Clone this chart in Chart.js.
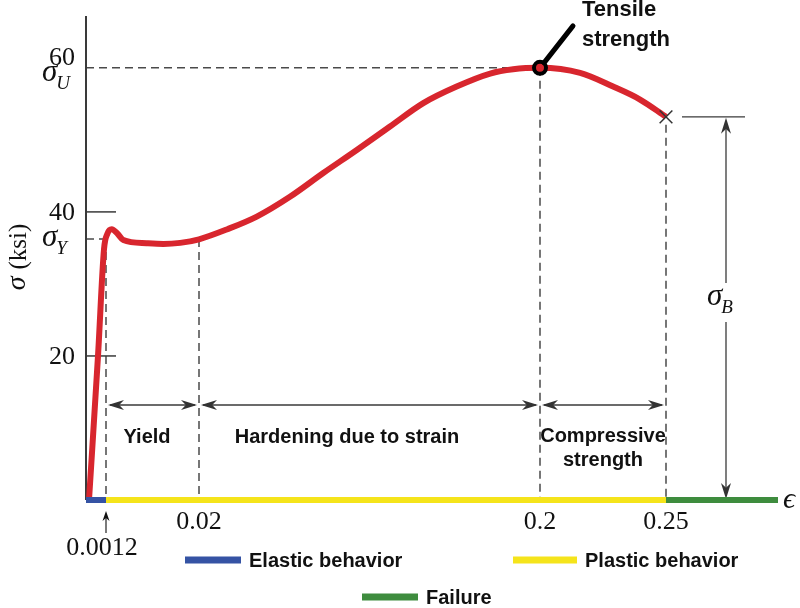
<!DOCTYPE html>
<html>
<head>
<meta charset="utf-8">
<script src="https://cdn.jsdelivr.net/npm/chart.js@4.4.1/dist/chart.umd.min.js"></script>
<style>
  html, body { margin: 0; padding: 0; background: #fff; }
  #wrap { width: 800px; height: 608px; }
</style>
</head>
<body>
<div id="wrap"><canvas id="stressChart" width="800" height="608"></canvas></div>
<script>
// stress-strain curve (strain, ksi)
const strain = [0.00018, 0.00072, 0.00108, 0.0015, 0.00235, 0.0035, 0.0047, 0.0094, 0.0128, 0.0162, 0.02, 0.035, 0.0505, 0.068, 0.0856, 0.1033, 0.1208, 0.1384, 0.156, 0.1737, 0.1858, 0.2, 0.2159, 0.229, 0.2397, 0.25];
const stress = [0, 20, 34.8, 37.0, 37.6, 37.0, 36.1, 35.65, 35.55, 35.7, 36.2, 37.6, 39.35, 42.1, 45.4, 48.6, 51.85, 55.1, 57.4, 59.2, 59.8, 60, 59.3, 57.4, 55.6, 53.2];

const yTicks = [20, 40];
const yTopLabel = '60';
const yieldStress = 36.25;
const ultimateStress = 60;
const breakStress = 53.2;
const yieldStrain = 0.0012;
const hardenStrain = 0.02;
const ultimateStrain = 0.2;
const breakStrain = 0.25;
const endStrain = 0.3;
const xTickLabels = ['0.02', '0.2', '0.25'];
const xTickValues = [0.02, 0.2, 0.25];

const regionNames = ['Yield', 'Hardening due to strain', ['Compressive', 'strength']];
const behaviourNames = ['Elastic behavior', 'Plastic behavior', 'Failure'];
const behaviourColors = ['#3553a4', '#f5e41b', '#3e8c3e'];

// the strain axis in the figure is not to scale: piecewise linear between the marked strains
const strainStops = [0, yieldStrain, hardenStrain, ultimateStrain, breakStrain, endStrain];
const stopFractions = [0, 20 / 692, 113 / 692, 454 / 692, 580 / 692, 1];

class BrokenStrainScale extends Chart.LinearScale {
  getPixelForValue(value) {
    let i = 1;
    while (i < strainStops.length - 1 && value > strainStops[i]) i++;
    const a = strainStops[i - 1], b = strainStops[i];
    const f = stopFractions[i - 1] + (value - a) / (b - a) * (stopFractions[i] - stopFractions[i - 1]);
    return this.getPixelForDecimal(f);
  }
  getValueForPixel(pixel) {
    const f = this.getDecimalForPixel(pixel);
    let i = 1;
    while (i < stopFractions.length - 1 && f > stopFractions[i]) i++;
    const a = stopFractions[i - 1], b = stopFractions[i];
    return strainStops[i - 1] + (f - a) / (b - a) * (strainStops[i] - strainStops[i - 1]);
  }
}
BrokenStrainScale.id = 'brokenStrain';
BrokenStrainScale.defaults = Chart.LinearScale.defaults;
Chart.register(BrokenStrainScale);

const SERIF = '"Liberation Serif", "DejaVu Serif", serif';
const SANS = '"Liberation Sans", Arial, sans-serif';

function line(ctx, x1, y1, x2, y2) {
  ctx.beginPath();
  ctx.moveTo(x1, y1);
  ctx.lineTo(x2, y2);
  ctx.stroke();
}

function arrowHead(ctx, x, y, angle, len, half) {
  ctx.save();
  ctx.translate(x, y);
  ctx.rotate(angle);
  ctx.beginPath();
  ctx.moveTo(0, 0);
  ctx.lineTo(-len, -half);
  ctx.lineTo(-len * 0.7, 0);
  ctx.lineTo(-len, half);
  ctx.closePath();
  ctx.fill();
  ctx.restore();
}

function doubleArrow(ctx, x1, x2, y) {
  line(ctx, x1 + 4, y, x2 - 4, y);
  arrowHead(ctx, x1 + 2, y, Math.PI, 16, 5);
  arrowHead(ctx, x2 - 2, y, 0, 16, 5);
}

function sigma(ctx, x, y, sub) {
  ctx.font = 'italic 31px ' + SERIF;
  ctx.textAlign = 'left';
  ctx.textBaseline = 'middle';
  ctx.fillText('σ', x, y - 3);
  const w = ctx.measureText('σ').width;
  ctx.font = 'italic 19px ' + SERIF;
  ctx.fillText(sub, x + w - 1, y + 8);
}

const figurePlugin = {
  id: 'figure',
  beforeDatasetsDraw(chart) {
    const { ctx, chartArea, scales: { x, y } } = chart;
    const base = y.getPixelForValue(0);
    ctx.save();
    ctx.strokeStyle = '#4a4a4a';
    ctx.lineWidth = 1.5;
    ctx.setLineDash([8, 5]);
    line(ctx, chartArea.left, y.getPixelForValue(ultimateStress), x.getPixelForValue(ultimateStrain), y.getPixelForValue(ultimateStress));
    line(ctx, x.getPixelForValue(ultimateStrain), y.getPixelForValue(ultimateStress), x.getPixelForValue(ultimateStrain), base);
    line(ctx, chartArea.left, y.getPixelForValue(yieldStress), x.getPixelForValue(yieldStrain), y.getPixelForValue(yieldStress));
    line(ctx, x.getPixelForValue(yieldStrain), y.getPixelForValue(yieldStress), x.getPixelForValue(yieldStrain), base);
    line(ctx, x.getPixelForValue(hardenStrain), y.getPixelForValue(yieldStress), x.getPixelForValue(hardenStrain), base);
    line(ctx, x.getPixelForValue(breakStrain), y.getPixelForValue(breakStress) + 8, x.getPixelForValue(breakStrain), base);
    ctx.setLineDash([]);

    // stress axis and ticks
    ctx.strokeStyle = '#3a3a3a';
    ctx.lineWidth = 2;
    line(ctx, chartArea.left, chartArea.top, chartArea.left, base);
    ctx.lineWidth = 1.5;
    yTicks.forEach(v => line(ctx, chartArea.left, y.getPixelForValue(v), chartArea.left + 30, y.getPixelForValue(v)));

    // region arrows
    ctx.fillStyle = '#333';
    ctx.lineWidth = 1.3;
    const ay = base - 95;
    doubleArrow(ctx, x.getPixelForValue(yieldStrain), x.getPixelForValue(hardenStrain), ay);
    doubleArrow(ctx, x.getPixelForValue(hardenStrain), x.getPixelForValue(ultimateStrain), ay);
    doubleArrow(ctx, x.getPixelForValue(ultimateStrain), x.getPixelForValue(breakStrain), ay);

    // sigma_B dimension
    const bx = x.getPixelForValue(breakStrain);
    const by = y.getPixelForValue(breakStress);
    line(ctx, bx + 16, by, bx + 79, by);
    const dx = bx + 60;
    line(ctx, dx, by + 6, dx, 283);
    line(ctx, dx, 322, dx, base - 6);
    arrowHead(ctx, dx, by + 1, -Math.PI / 2, 16, 5);
    arrowHead(ctx, dx, base - 1, Math.PI / 2, 16, 5);
    ctx.restore();
  },
  afterDatasetsDraw(chart) {
    const { ctx, chartArea, scales: { x, y } } = chart;
    const base = y.getPixelForValue(0);
    ctx.save();

    // behaviour bars along the strain axis
    ctx.lineWidth = 6;
    const ends = [yieldStrain, breakStrain, endStrain];
    let from = chartArea.left;
    ends.forEach((e, i) => {
      const to = e === endStrain ? chartArea.right : x.getPixelForValue(e);
      ctx.strokeStyle = behaviourColors[i];
      line(ctx, from, base, to, base);
      from = to;
    });

    // tensile strength pointer
    const ux = x.getPixelForValue(ultimateStrain), uy = y.getPixelForValue(ultimateStress);
    ctx.strokeStyle = '#000';
    ctx.lineWidth = 5;
    ctx.lineCap = 'round';
    line(ctx, ux + 4, uy - 5, ux + 33, uy - 42);
    ctx.lineCap = 'butt';

    ctx.fillStyle = '#111';
    ctx.font = 'bold 22px ' + SANS;
    ctx.textAlign = 'left';
    ctx.textBaseline = 'middle';
    ctx.fillText('Tensile', 582, 10);
    ctx.fillText('strength', 582, 40);

    // stress tick labels
    ctx.font = '26px ' + SERIF;
    ctx.textAlign = 'center';
    ctx.fillText(yTopLabel, 62, y.getPixelForValue(ultimateStress) - 10);
    yTicks.forEach(v => ctx.fillText(String(v), 62, y.getPixelForValue(v) + 1));
    sigma(ctx, 42, y.getPixelForValue(ultimateStress) + 8, 'U');
    sigma(ctx, 42, y.getPixelForValue(yieldStress) + 2, 'Y');
    sigma(ctx, x.getPixelForValue(breakStrain) + 41, 300, 'B');

    // stress axis title
    ctx.save();
    ctx.translate(19, 257);
    ctx.rotate(-Math.PI / 2);
    ctx.textAlign = 'left';
    ctx.font = 'italic 28px ' + SERIF;
    const sw = ctx.measureText('σ ').width;
    ctx.font = '25px ' + SERIF;
    const kw = ctx.measureText('(ksi)').width;
    ctx.font = 'italic 28px ' + SERIF;
    ctx.fillText('σ ', -(sw + kw) / 2, -1);
    ctx.font = '25px ' + SERIF;
    ctx.fillText('(ksi)', -(sw + kw) / 2 + sw, 0);
    ctx.restore();

    // strain tick labels
    ctx.font = '26px ' + SERIF;
    ctx.textAlign = 'center';
    xTickValues.forEach((v, i) => ctx.fillText(xTickLabels[i], x.getPixelForValue(v), base + 22));
    const yx = x.getPixelForValue(yieldStrain);
    ctx.fillText(String(yieldStrain), yx - 4, base + 48);
    ctx.strokeStyle = '#333';
    ctx.lineWidth = 1.3;
    line(ctx, yx, base + 33, yx, base + 16);
    arrowHead(ctx, yx, base + 11, -Math.PI / 2, 10, 3.5);
    ctx.font = 'italic 30px ' + SERIF;
    ctx.fillText('ϵ', 789, base);

    // region names
    ctx.font = 'bold 20px ' + SANS;
    ctx.fillText(regionNames[0], 147, base - 63);
    ctx.fillText(regionNames[1], 347, base - 63);
    ctx.fillText(regionNames[2][0], 603, base - 64);
    ctx.fillText(regionNames[2][1], 603, base - 40);

    // legend
    const legendRows = [[185, 560], [513, 560], [362, 597]];
    ctx.textAlign = 'left';
    behaviourNames.forEach((name, i) => {
      const [lx, ly] = legendRows[i];
      ctx.fillStyle = behaviourColors[i];
      ctx.fillRect(lx, ly - 3.5, i === 1 ? 64 : 56, 7);
      ctx.fillStyle = '#111';
      ctx.fillText(name, lx + (i === 1 ? 72 : 64), ly + 1);
    });
    ctx.restore();
  }
};

const ctx = document.getElementById('stressChart').getContext('2d');
const stressChart = new Chart(ctx, {
  type: 'line',
  data: {
    datasets: [
      {
        label: 'stress',
        data: strain.map((s, i) => ({ x: s, y: stress[i] })),
        borderColor: '#d8262e',
        borderWidth: 6,
        pointRadius: 0,
        cubicInterpolationMode: 'monotone',
        fill: false,
        order: 2
      },
      {
        label: 'tensile strength',
        data: [{ x: ultimateStrain, y: ultimateStress }],
        pointStyle: 'circle',
        pointRadius: 6,
        pointBorderWidth: 4,
        pointBorderColor: '#000',
        pointBackgroundColor: '#d8262e',
        showLine: false,
        order: 0
      },
      {
        label: 'failure',
        data: [{ x: breakStrain, y: breakStress }],
        pointStyle: 'crossRot',
        pointRadius: 9,
        pointBorderWidth: 1.5,
        pointBorderColor: '#333',
        showLine: false,
        order: 1
      }
    ]
  },
  options: {
    responsive: false,
    animation: false,
    layout: { padding: { left: 86, right: 22, top: 16, bottom: 108 } },
    plugins: {
      legend: { display: false },
      tooltip: { enabled: false }
    },
    scales: {
      x: { type: 'brokenStrain', min: 0, max: endStrain, display: false },
      y: { type: 'linear', min: 0, max: 67.2, display: false }
    }
  },
  plugins: [figurePlugin]
});
</script>
</body>
</html>
